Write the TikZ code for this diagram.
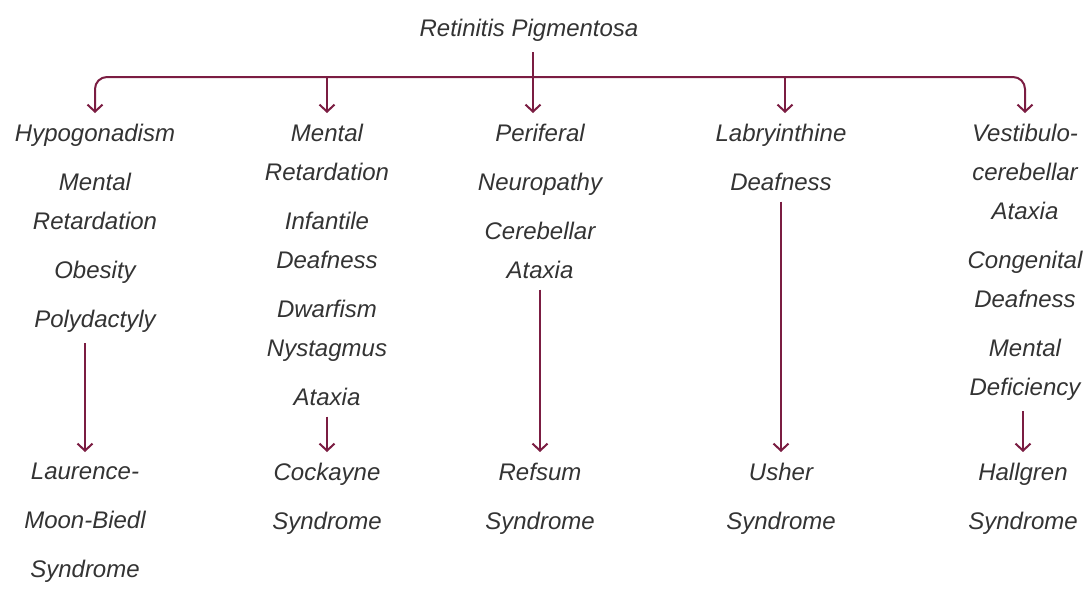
\documentclass[tikz,border=0pt]{standalone}
\usepackage{fontspec}
\setmainfont{Liberation Sans}
\usetikzlibrary{arrows.meta}
\definecolor{wine}{HTML}{7B1D42}
\definecolor{ink}{HTML}{333333}
\begin{document}
\begin{tikzpicture}[x=1pt,y=-1pt,
  txt/.style={font=\fontsize{24}{39}\selectfont\itshape,text=ink,align=center,inner sep=1pt,outer sep=10pt},
  arr/.style={wine,line width=2pt,-{Straight Barb[length=7pt,width=15pt]}}]
\useasboundingbox (0,0) rectangle (1090,589);

\node[txt] (title) at (529,30) {Retinitis Pigmentosa};
\coordinate (bar) at (533,77);

% the five lists of signs
\node[txt,anchor=north] (list1) at (95,113) {Hypogonadism\\[10pt] Mental\\ Retardation\\[10pt] Obesity\\[10pt] Polydactyly};
\node[txt,anchor=north] (list2) at (327,113) {Mental\\ Retardation\\[10pt] Infantile\\ Deafness\\[10pt] Dwarfism\\ Nystagmus\\[10pt] Ataxia};
\node[txt,anchor=north] (list3) at (540,113) {Periferal\\[10pt] Neuropathy\\[10pt] Cerebellar\\ Ataxia};
\node[txt,anchor=north] (list4) at (781,113) {Labryinthine\\[10pt] Deafness};
\node[txt,anchor=north] (list5) at (1025,113) {Vestibulo-\\ cerebellar\\ Ataxia\\[10pt] Congenital\\ Deafness\\[10pt] Mental\\ Deficiency};

% the syndromes
\node[txt,anchor=north] (synd1) at (85,452) {Laurence-\\[10pt] Moon-Biedl\\[10pt] Syndrome};
\node[txt,anchor=north] (synd2) at (327,452) {Cockayne\\[10pt] Syndrome};
\node[txt,anchor=north] (synd3) at (540,452) {Refsum\\[10pt] Syndrome};
\node[txt,anchor=north] (synd4) at (781,452) {Usher\\[10pt] Syndrome};
\node[txt,anchor=north] (synd5) at (1023,452) {Hallgren\\[10pt] Syndrome};

\draw[arr] (bar |- title.south) -- (bar |- list3.north);
\draw[arr,rounded corners=12pt] (bar) -| (list1.north);
\draw[arr,rounded corners=12pt] (bar) -| (list5.north);
\draw[arr] (bar -| list2.north) -- (list2.north);
\draw[arr] (bar -| 785,0) -- (785,113);

\foreach \k in {1,...,5} {
\draw[arr] (synd\k.north |- list\k.south) -- (synd\k.north);}
\end{tikzpicture}
\end{document}
